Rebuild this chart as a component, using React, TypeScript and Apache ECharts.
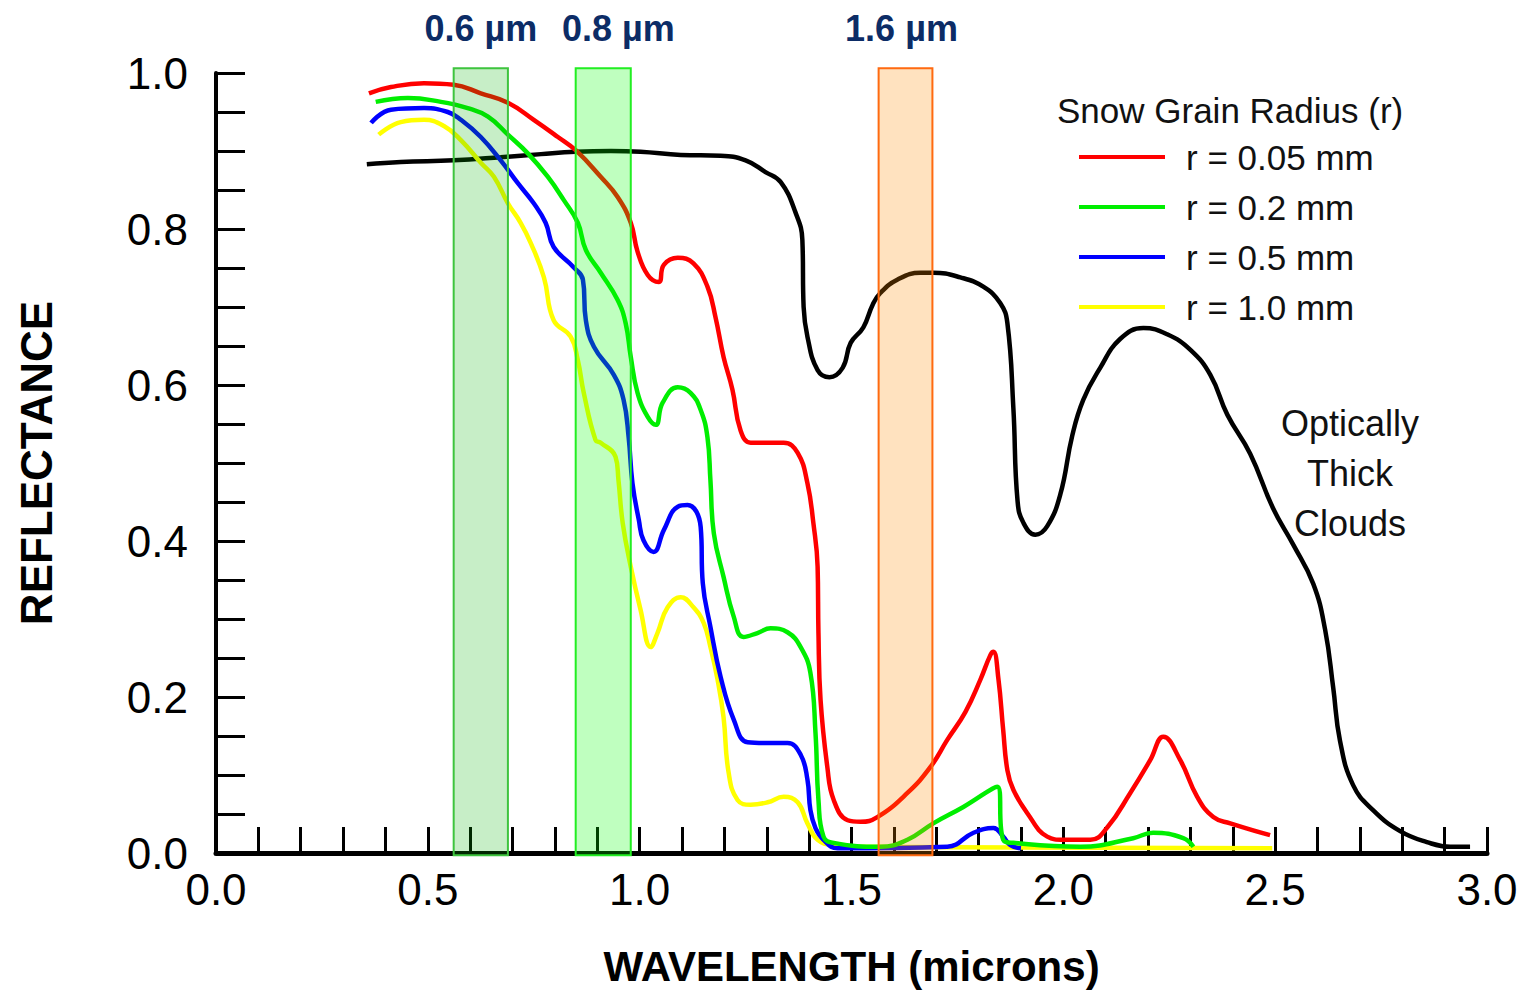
import React, { useEffect, useRef } from "react";
import * as echarts from "echarts";

// ---------- data (wavelength in microns, reflectance) ----------
const clouds: [number, number][] = [
  [0.356, 0.883], [0.436, 0.886], [0.561, 0.888], [0.672, 0.892], [0.767, 0.896],
  [0.849, 0.899], [0.932, 0.9], [1.002, 0.899], [1.097, 0.895], [1.191, 0.894],
  [1.25, 0.888], [1.297, 0.873], [1.333, 0.86], [1.368, 0.821], [1.384, 0.786],
  [1.387, 0.7], [1.396, 0.662], [1.42, 0.619], [1.448, 0.61], [1.479, 0.622],
  [1.498, 0.654], [1.528, 0.674], [1.55, 0.703], [1.568, 0.718], [1.608, 0.735],
  [1.663, 0.744], [1.693, 0.744], [1.757, 0.738], [1.811, 0.726], [1.851, 0.705],
  [1.868, 0.679], [1.882, 0.571], [1.892, 0.451], [1.906, 0.423], [1.934, 0.408],
  [1.962, 0.419], [1.993, 0.46], [2.021, 0.535], [2.047, 0.581], [2.087, 0.622],
  [2.134, 0.659], [2.189, 0.673], [2.245, 0.665], [2.3, 0.645], [2.347, 0.613],
  [2.387, 0.562], [2.441, 0.512], [2.495, 0.442], [2.542, 0.396], [2.59, 0.345],
  [2.618, 0.286], [2.637, 0.212], [2.653, 0.144], [2.684, 0.087], [2.731, 0.055],
  [2.795, 0.028], [2.858, 0.014], [2.913, 0.008], [2.96, 0.008],
];

const snow005: [number, number][] = [
  [0.361, 0.974], [0.413, 0.982], [0.491, 0.987], [0.561, 0.985], [0.625, 0.974],
  [0.689, 0.962], [0.75, 0.94], [0.807, 0.918], [0.849, 0.901], [0.908, 0.867],
  [0.948, 0.841], [0.979, 0.808], [0.995, 0.771], [1.019, 0.741], [1.045, 0.732],
  [1.057, 0.754], [1.09, 0.763], [1.127, 0.756], [1.16, 0.726], [1.179, 0.687],
  [1.198, 0.636], [1.219, 0.594], [1.238, 0.542], [1.262, 0.526], [1.302, 0.526],
  [1.34, 0.526], [1.373, 0.513], [1.396, 0.474], [1.41, 0.423], [1.42, 0.367],
  [1.422, 0.282], [1.427, 0.196], [1.443, 0.11], [1.458, 0.068], [1.491, 0.042],
  [1.521, 0.04], [1.561, 0.046], [1.632, 0.077], [1.686, 0.11], [1.726, 0.145],
  [1.769, 0.181], [1.804, 0.222], [1.828, 0.254], [1.835, 0.258], [1.847, 0.222],
  [1.858, 0.158], [1.868, 0.106], [1.882, 0.081], [1.915, 0.051], [1.962, 0.021],
  [2.0, 0.017], [2.064, 0.017], [2.104, 0.033], [2.158, 0.077], [2.205, 0.119],
  [2.236, 0.149], [2.276, 0.119], [2.316, 0.072], [2.354, 0.046], [2.394, 0.038],
  [2.488, 0.023],
];

const snow02: [number, number][] = [
  [0.377, 0.963], [0.453, 0.968], [0.531, 0.963], [0.594, 0.955], [0.642, 0.944],
  [0.689, 0.921], [0.736, 0.897], [0.783, 0.867], [0.821, 0.837], [0.854, 0.808],
  [0.873, 0.773], [0.908, 0.744], [0.948, 0.709], [0.967, 0.679], [0.979, 0.636],
  [0.995, 0.59], [1.019, 0.559], [1.038, 0.549], [1.054, 0.577], [1.09, 0.597],
  [1.12, 0.59], [1.144, 0.568], [1.16, 0.533], [1.167, 0.478], [1.175, 0.41],
  [1.198, 0.354], [1.222, 0.303], [1.245, 0.277], [1.278, 0.282], [1.309, 0.288],
  [1.349, 0.283], [1.38, 0.264], [1.403, 0.231], [1.415, 0.154], [1.422, 0.068],
  [1.434, 0.021], [1.458, 0.013], [1.568, 0.008], [1.632, 0.017], [1.693, 0.038],
  [1.764, 0.059], [1.844, 0.085], [1.858, 0.017], [1.882, 0.013], [2.04, 0.008],
  [2.165, 0.019], [2.212, 0.026], [2.283, 0.019], [2.307, 0.008],
];

const snow05: [number, number][] = [
  [0.366, 0.936], [0.413, 0.953], [0.491, 0.955], [0.547, 0.95], [0.578, 0.94],
  [0.625, 0.918], [0.672, 0.888], [0.712, 0.859], [0.75, 0.833], [0.778, 0.808],
  [0.797, 0.777], [0.844, 0.751], [0.866, 0.735], [0.873, 0.683], [0.892, 0.649],
  [0.939, 0.613], [0.962, 0.581], [0.974, 0.533], [0.983, 0.474], [0.998, 0.427],
  [1.009, 0.401], [1.033, 0.386], [1.057, 0.414], [1.09, 0.444], [1.113, 0.446],
  [1.144, 0.418], [1.149, 0.346], [1.167, 0.29], [1.191, 0.226], [1.222, 0.171],
  [1.255, 0.142], [1.302, 0.141], [1.349, 0.141], [1.38, 0.126], [1.396, 0.094],
  [1.403, 0.055], [1.415, 0.032], [1.434, 0.017], [1.467, 0.006], [1.726, 0.008],
  [1.788, 0.026], [1.835, 0.032], [1.858, 0.021], [1.875, 0.01], [1.9, 0.006],
];

const snow10: [number, number][] = [
  [0.384, 0.921], [0.436, 0.937], [0.491, 0.94], [0.538, 0.932], [0.578, 0.914],
  [0.625, 0.885], [0.656, 0.867], [0.689, 0.833], [0.719, 0.808], [0.743, 0.782],
  [0.774, 0.738], [0.797, 0.683], [0.837, 0.662], [0.854, 0.632], [0.868, 0.59],
  [0.896, 0.529], [0.908, 0.526], [0.943, 0.508], [0.95, 0.478], [0.96, 0.423],
  [0.979, 0.367], [1.002, 0.312], [1.026, 0.264], [1.042, 0.282], [1.066, 0.315],
  [1.097, 0.328], [1.127, 0.315], [1.151, 0.295], [1.167, 0.264], [1.184, 0.222],
  [1.198, 0.174], [1.21, 0.103], [1.231, 0.068], [1.262, 0.062], [1.302, 0.065],
  [1.34, 0.072], [1.373, 0.065], [1.396, 0.038], [1.42, 0.017], [1.458, 0.01],
  [1.521, 0.008], [2.493, 0.006],
];

const seriesNames = ["r = 0.05 mm", "r = 0.2 mm", "r = 0.5 mm", "r = 1.0 mm"];
const seriesColors = ["#ff0000", "#00ee00", "#0000ff", "#ffff00"];

// spectral bands
const bandStart = [0.561, 0.849, 1.564];
const bandEnd = [0.689, 0.979, 1.691];
const bandLabelX = [0.625, 0.95, 1.618];
const bandLabels = ["0.6 µm", "0.8 µm", "1.6 µm"];
const bandFill = ["rgba(0,176,0,0.22)", "rgba(0,255,0,0.25)", "rgba(255,140,0,0.25)"];
const bandStroke = ["#3ec43e", "#22ee22", "#ff6a10"];
const bandTop = 1.006;
const bandBottom = -0.003;

const FONT = "'Liberation Sans', Arial, sans-serif";

export default function App() {
  const ref = useRef<HTMLDivElement>(null);
  useEffect(() => {
    if (!ref.current) return;
    const chart = echarts.init(ref.current, undefined, { renderer: "svg" });
    const snowSets = [snow005, snow02, snow05, snow10];
    const option: any = {
      animation: false,
      backgroundColor: "#ffffff",
      grid: { left: 216, right: 34, top: 73, bottom: 137, outerBoundsMode: "none", containLabel: false },
      legend: {
        data: seriesNames,
        orient: "vertical",
        left: 1074,
        top: 134,
        icon: "rect",
        itemWidth: 86,
        itemHeight: 4,
        itemGap: 14,
        textStyle: { fontSize: 35, fontFamily: FONT, color: "#111", lineHeight: 36, padding: [0, 0, 0, 16] },
      },
      xAxis: {
        type: "value",
        min: 0,
        max: 3,
        interval: 0.5,
        name: "WAVELENGTH (microns)",
        nameLocation: "middle",
        nameGap: 92,
        nameTextStyle: { fontSize: 42, fontWeight: "bold", fontFamily: FONT, color: "#000" },
        axisLine: { show: true, lineStyle: { color: "#000", width: 5 } },
        axisTick: { show: true, inside: true, length: 26, lineStyle: { color: "#000", width: 3 } },
        minorTick: { show: true, splitNumber: 5, length: 26, lineStyle: { color: "#000", width: 3 } },
        splitLine: { show: false },
        minorSplitLine: { show: false },
        axisLabel: {
          fontSize: 44,
          fontFamily: FONT,
          color: "#000",
          margin: 14,
          formatter: (v: number) => v.toFixed(1),
        },
      },
      yAxis: {
        type: "value",
        min: 0,
        max: 1,
        interval: 0.2,
        name: "REFLECTANCE",
        nameLocation: "middle",
        nameGap: 158,
        nameRotate: 90,
        nameTextStyle: { fontSize: 44, fontWeight: "bold", fontFamily: FONT, color: "#000" },
        axisLine: { show: true, lineStyle: { color: "#000", width: 4 } },
        axisTick: { show: true, inside: true, length: 29, lineStyle: { color: "#000", width: 3 } },
        minorTick: { show: true, splitNumber: 4, length: 29, lineStyle: { color: "#000", width: 3 } },
        splitLine: { show: false },
        minorSplitLine: { show: false },
        axisLabel: {
          fontSize: 44,
          fontFamily: FONT,
          color: "#000",
          margin: 28,
          formatter: (v: number) => v.toFixed(1),
        },
      },
      graphic: [
        {
          type: "text",
          x: 1057,
          y: 110,
          style: {
            text: "Snow Grain Radius (r)",
            fontSize: 35,
            fontFamily: FONT,
            fill: "#111",
            verticalAlign: "middle",
          },
        },
        {
          type: "text",
          x: 1350,
          y: 473,
          style: {
            text: "Optically\nThick\nClouds",
            fontSize: 36,
            lineHeight: 50,
            fontFamily: FONT,
            fill: "#111",
            align: "center",
            verticalAlign: "middle",
          },
        },
      ],
      series: [
        {
          name: "Optically Thick Clouds",
          type: "line",
          data: clouds,
          showSymbol: false,
          smooth: 0.45,
          lineStyle: { color: "#000", width: 4.5 },
          itemStyle: { color: "#000" },
          z: 2,
        },
        ...snowSets.map((d, i) => ({
          name: seriesNames[i],
          type: "line",
          data: d,
          showSymbol: false,
          smooth: 0.45,
          lineStyle: { color: seriesColors[i], width: 4.5 },
          itemStyle: { color: seriesColors[i] },
          z: 3 + (3 - i) * 0.1,
        })),
        {
          type: "custom",
          z: 10,
          clip: false,
          data: bandStart.map((s, i) => [s, bandEnd[i]]),
          renderItem: (params: any, api: any) => {
            const i = params.dataIndex;
            const p0 = api.coord([api.value(0), bandTop]);
            const p1 = api.coord([api.value(1), bandBottom]);
            const lx = api.coord([bandLabelX[i], 0])[0];
            return {
              type: "group",
              children: [
                {
                  type: "rect",
                  shape: { x: p0[0], y: p0[1], width: p1[0] - p0[0], height: p1[1] - p0[1] },
                  style: { fill: bandFill[i], stroke: bandStroke[i], lineWidth: 2 },
                },
                {
                  type: "text",
                  x: lx,
                  y: 28,
                  style: {
                    text: bandLabels[i],
                    fontSize: 36,
                    fontWeight: "bold",
                    fontFamily: FONT,
                    fill: "#0c2c66",
                    align: "center",
                    verticalAlign: "middle",
                  },
                },
              ],
            };
          },
        },
      ],
    };
    chart.setOption(option);
    return () => chart.dispose();
  }, []);
  return (
    <div
      ref={ref}
      style={{ position: "fixed", left: 0, top: 0, width: 1521, height: 990, background: "#fff" }}
    />
  );
}
